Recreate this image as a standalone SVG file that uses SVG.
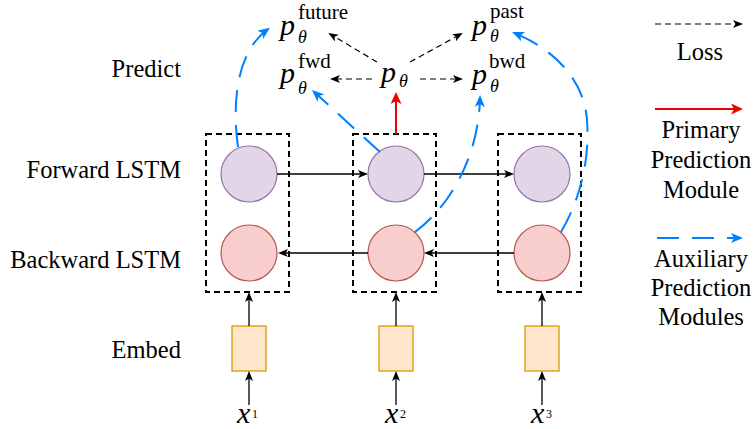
<svg xmlns="http://www.w3.org/2000/svg" width="754" height="429" viewBox="0 0 754 429">
<style>
.lbl{font-family:"Liberation Serif","Times New Roman",serif;font-size:24.5px;fill:#000}
.mp{font-family:"Liberation Serif","Times New Roman",serif;font-style:italic;font-size:30px;fill:#000}
.th{font-family:"Liberation Serif","Times New Roman",serif;font-style:italic;font-size:18px;fill:#000}
.sup{font-family:"Liberation Serif","Times New Roman",serif;font-size:21px;fill:#000}
.xv{font-family:"Liberation Serif","Times New Roman",serif;font-style:italic;font-size:30px;fill:#000}
.xs{font-family:"Liberation Serif","Times New Roman",serif;font-size:12px;fill:#000}
.fw{fill:#e1d5e7;stroke:#9673a6;stroke-width:1.2}
.bw{fill:#f8cecc;stroke:#b85450;stroke-width:1.2}
.emb{fill:#ffe6cc;stroke:#d79b00;stroke-width:1.3}
.grp{fill:none;stroke:#000;stroke-width:2;stroke-dasharray:6 4}
.solid{fill:none;stroke:#000;stroke-width:1.3;marker-end:url(#ak)}
.loss{fill:none;stroke:#000;stroke-width:1.2;stroke-dasharray:6 4;marker-end:url(#ak)}
.prim{fill:none;stroke:#ee0000;stroke-width:2;marker-end:url(#ar)}
.aux{fill:none;stroke:#007fff;stroke-width:2;stroke-dasharray:22 13;marker-end:url(#ab)}
</style>
<defs>
<marker id="ak" markerWidth="10" markerHeight="8" refX="8" refY="4" orient="auto" markerUnits="userSpaceOnUse"><path d="M0,0 L10,4 L0,8 L2.5,4 z" fill="#000" stroke="none"/></marker>
<marker id="ar" markerWidth="12" markerHeight="11" refX="9" refY="5.5" orient="auto" markerUnits="userSpaceOnUse"><path d="M0,0 L12,5.5 L0,11 L3,5.5 z" fill="#ee0000" stroke="none"/></marker>
<marker id="ab" markerWidth="12" markerHeight="10" refX="9" refY="5" orient="auto" markerUnits="userSpaceOnUse"><path d="M0,0 L12,5 L0,10 L3,5 z" fill="#007fff" stroke="none"/></marker>
</defs>
<rect width="754" height="429" fill="#fff"/>

<g id="row-labels">
<text class="lbl" x="181" y="77" text-anchor="end">Predict</text>
<text class="lbl" x="181" y="178" text-anchor="end">Forward LSTM</text>
<text class="lbl" x="181" y="268" text-anchor="end">Backward LSTM</text>
<text class="lbl" x="181" y="358" text-anchor="end">Embed</text>
</g>

<g id="group1"><rect class="grp" x="206" y="134" width="83" height="158"/></g>
<g id="group2"><rect class="grp" x="353" y="134" width="83" height="158"/></g>
<g id="group3"><rect class="grp" x="498" y="134" width="83" height="158"/></g>

<g id="fwd1"><circle class="fw" cx="249" cy="174" r="28"/></g>
<g id="fwd2"><circle class="fw" cx="396" cy="174" r="28"/></g>
<g id="fwd3"><circle class="fw" cx="542" cy="174" r="28"/></g>
<g id="bwd1"><circle class="bw" cx="249" cy="253" r="28"/></g>
<g id="bwd2"><circle class="bw" cx="396" cy="253" r="28"/></g>
<g id="bwd3"><circle class="bw" cx="542" cy="253" r="28"/></g>

<g id="embed1"><rect class="emb" x="232" y="326" width="34" height="45"/></g>
<g id="embed2"><rect class="emb" x="379" y="326" width="34" height="45"/></g>
<g id="embed3"><rect class="emb" x="525" y="326" width="34" height="45"/></g>

<g id="x1"><text class="xv" x="237" y="423">x</text><text class="xs" x="252" y="418">1</text></g>
<g id="x2"><text class="xv" x="385" y="423">x</text><text class="xs" x="400" y="418">2</text></g>
<g id="x3"><text class="xv" x="531" y="423">x</text><text class="xs" x="546" y="418">3</text></g>

<g id="p-main"><text class="mp" x="381" y="82">p</text><text class="th" x="399" y="87">θ</text></g>
<g id="p-fwd"><text class="mp" x="280" y="83">p</text><text class="th" x="298" y="94">θ</text><text class="sup" x="298" y="68">fwd</text></g>
<g id="p-future"><text class="mp" x="280" y="35">p</text><text class="th" x="298" y="43">θ</text><text class="sup" x="298" y="19">future</text></g>
<g id="p-bwd"><text class="mp" x="472" y="84">p</text><text class="th" x="490" y="92">θ</text><text class="sup" x="489" y="68">bwd</text></g>
<g id="p-past"><text class="mp" x="472" y="35">p</text><text class="th" x="490" y="42">θ</text><text class="sup" x="490" y="18">past</text></g>

<g id="connectors">
<line class="solid" x1="277" y1="174" x2="366" y2="174"/>
<line class="solid" x1="424" y1="174" x2="512" y2="174"/>
<line class="solid" x1="514" y1="253" x2="426" y2="253"/>
<line class="solid" x1="368" y1="253" x2="280" y2="253"/>
<line class="solid" x1="249" y1="326" x2="249" y2="294"/>
<line class="solid" x1="396" y1="326" x2="396" y2="294"/>
<line class="solid" x1="542" y1="326" x2="542" y2="294"/>
<line class="solid" x1="249" y1="405" x2="249" y2="373"/>
<line class="solid" x1="396" y1="405" x2="396" y2="373"/>
<line class="solid" x1="542" y1="405" x2="542" y2="373"/>
<line class="prim" x1="396" y1="134" x2="396" y2="95"/>
<line class="loss" x1="372" y1="79" x2="332" y2="79"/>
<line class="loss" x1="420" y1="79" x2="461" y2="79"/>
<line class="loss" x1="377" y1="62" x2="330" y2="34"/>
<line class="loss" x1="410" y1="62" x2="461" y2="34"/>
<path class="aux" d="M238,147 C232,105 236,52 267.5,29.6"/>
<path class="aux" d="M380,152 L314.2,92"/>
<path class="aux" d="M415,232 C455,202 479,150 480,98"/>
<path class="aux" d="M561,232 C580,200 590,160 587,120 C584,80 555,50 514.8,33.2"/>
</g>

<g id="legend">
<line class="loss" x1="655" y1="24" x2="741" y2="24"/>
<text class="lbl" x="700" y="60" text-anchor="middle">Loss</text>
<line class="prim" x1="655" y1="109" x2="740" y2="109"/>
<text class="lbl" x="701" y="138" text-anchor="middle">Primary</text>
<text class="lbl" x="701" y="168" text-anchor="middle">Prediction</text>
<text class="lbl" x="701" y="198" text-anchor="middle">Module</text>
<line class="aux" x1="657" y1="238" x2="740" y2="238"/>
<text class="lbl" x="701" y="267" text-anchor="middle">Auxiliary</text>
<text class="lbl" x="701" y="296" text-anchor="middle">Prediction</text>
<text class="lbl" x="701" y="325" text-anchor="middle">Modules</text>
</g>
</svg>
